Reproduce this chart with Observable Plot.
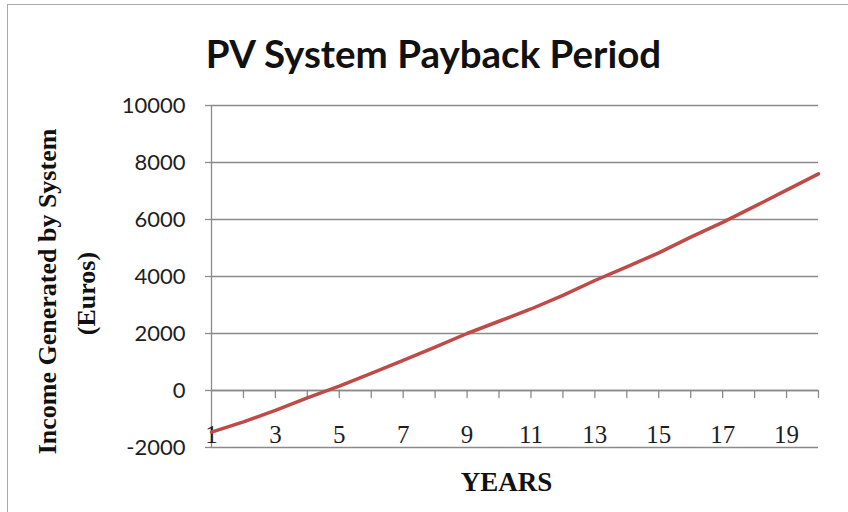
<!DOCTYPE html>
<html>
<head>
<meta charset="utf-8">
<script src="https://cdn.jsdelivr.net/npm/d3@7"></script>
<script src="https://cdn.jsdelivr.net/npm/@observablehq/plot@0.6"></script>
<style>
  html, body { margin: 0; padding: 0; background: #fff; }
  #wrap { position: relative; width: 848px; height: 512px; overflow: hidden; }
  #border { position: absolute; left: 7px; top: 4px; right: -10px; bottom: -10px;
            border-left: 1.5px solid #a8a8a8; border-top: 1.5px solid #a8a8a8; pointer-events: none; }
  #wrap svg { position: absolute; left: 0; top: 0; }
</style>
</head>
<body>
<div id="wrap"><div id="border"></div></div>
<script>
// ---- data ----
const years = [1, 2, 3, 4, 5, 6, 7, 8, 9, 10, 11, 12, 13, 14, 15, 16, 17, 18, 19, 20];
const income = [-1460, -1100, -700, -260, 150, 600, 1060, 1520, 2000, 2430,
                2860, 3340, 3860, 4340, 4830, 5380, 5900, 6460, 7030, 7600];
const yTicks = [-2000, 0, 2000, 4000, 6000, 8000, 10000];
const xLabelYears = [1, 3, 5, 7, 9, 11, 13, 15, 17, 19];
const tickYears = [2, 3, 4, 5, 6, 7, 8, 9, 10, 11, 12, 13, 14, 15, 16, 17, 18, 19, 20];
const titleText = "PV System Payback Period";
const yTitle = "Income Generated by System";
const yTitle2 = "(Euros)";
const xTitle = "YEARS";

const table = years.map((year, i) => ({year, income: income[i]}));

const gridColor = "#8a8a8a";
const serif = "'Liberation Serif', 'Times New Roman', serif";

const chart = Plot.plot({
  width: 848,
  height: 512,
  marginLeft: 211,
  marginRight: 30,
  marginTop: 105,
  marginBottom: 65,
  style: {background: "transparent", overflow: "visible", fontFamily: "Lato"},
  x: {domain: [1, 20], axis: null},
  y: {domain: [-2000, 10000], axis: null},
  marks: [
    Plot.gridY(yTicks, {stroke: gridColor, strokeOpacity: 1, strokeWidth: 1.3}),
    Plot.ruleX([1], {stroke: gridColor, strokeWidth: 1.3}),
    Plot.ruleY([0], {stroke: gridColor, strokeWidth: 1.3}),
    Plot.axisY(yTicks, {
      label: null,
      tickSize: 6, tickPadding: 20, tickFormat: d => String(d),
      stroke: gridColor, strokeWidth: 1.3, fill: "#1e1e1e",
      fontSize: 22, fontFamily: "Lato"
    }),
    Plot.vector(tickYears, {
      x: d => d, y: () => 0, length: 7, anchor: "start",
      shape: {draw(ctx, l) { ctx.moveTo(0, 0); ctx.lineTo(0, l); }},
      stroke: gridColor, strokeWidth: 1.3
    }),
    Plot.text(xLabelYears, {
      x: d => d, text: d => String(d), frameAnchor: "bottom", lineAnchor: "bottom",
      dy: -5, fontSize: 25, fontFamily: serif, fill: "#1e1e1e"
    }),
    Plot.line(table, {x: "year", y: "income", stroke: "#be4b48", strokeWidth: 3.5,
      strokeLinejoin: "round", strokeLinecap: "round"}),
    Plot.text([titleText], {
      text: d => d, frameAnchor: "top", lineAnchor: "bottom", dy: -38, dx: -81.5,
      fontSize: 38.5, fontWeight: "bold", fontFamily: "Lato", fill: "#111"
    }),
    Plot.text([yTitle], {
      text: d => d, frameAnchor: "left", textAnchor: "middle", lineAnchor: "middle", rotate: -90,
      dx: -164, dy: 15, fontSize: 26, fontWeight: "bold", fontFamily: serif,
      fill: "#111", letterSpacing: "1.2px"
    }),
    Plot.text([yTitle2], {
      text: d => d, frameAnchor: "left", textAnchor: "middle", lineAnchor: "middle", rotate: -90,
      dx: -125, dy: 17, fontSize: 26, fontWeight: "bold", fontFamily: serif, fill: "#111",
      letterSpacing: "0.4px"
    }),
    Plot.text([xTitle], {
      text: d => d, frameAnchor: "bottom", lineAnchor: "bottom", dy: 43, dx: -8.5,
      fontSize: 27, fontWeight: "bold", fontFamily: serif, fill: "#111"
    })
  ]
});
document.getElementById("wrap").appendChild(chart);
</script>
</body>
</html>
